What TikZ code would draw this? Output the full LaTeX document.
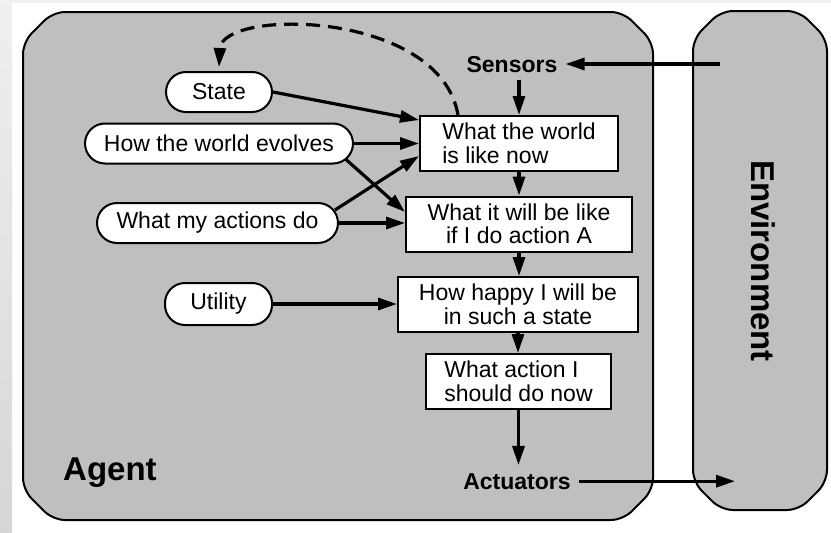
\documentclass[tikz,border=0pt]{standalone}
\usepackage{fontspec}
\setmainfont{Liberation Sans}
\usetikzlibrary{arrows.meta, calc}

\begin{document}
\begin{tikzpicture}[x=1pt, y=-1pt,
	every node/.style={font=\fontsize{23}{23.5}\selectfont},
	box/.style={draw, fill=white, line width=2pt, minimum height=55pt, inner ysep=4pt, align=left},
	oval/.style={draw, fill=white, line width=2pt, rounded corners=20pt, minimum height=40pt},
	tag/.style={font=\fontsize{23}{23.5}\selectfont\bfseries, inner sep=8pt},
	big/.style={font=\fontsize{33}{33}\selectfont\bfseries},
	flow/.style={line width=3.2pt, -{Triangle[length=19pt, width=12pt]}}]
	
	\useasboundingbox (0,0) rectangle (831,533);
	\shade[top color=black!6, bottom color=black!16] (0,0) rectangle (12,533);
	\fill[black!6] (12,0) rectangle (831,3);
	
	% agent and environment
	\draw[fill=black!25, line width=2pt, rounded corners=12pt]
		(338,12) -- (623,12) -- (653,42) -- (653,490) -- (623,520) -- (53,520) -- (23,490) -- (23,42) -- (53,12) -- cycle;
	\draw[fill=black!25, line width=2pt, rounded corners=12pt]
		(760,11) -- (799,11) -- (827,39) -- (827,482) -- (799,510) -- (721,510) -- (693,482) -- (693,39) -- (721,11) -- cycle;
	
	\node[big, anchor=base west, inner sep=0pt] (agent) at (63,480) {Agent};
	\node[big, rotate=-90] (env) at (763,261) {Environment};
	\node[tag, anchor=base] (sensors) at (512,72) {Sensors};
	\node[tag, anchor=base] (actuators) at (517,489) {Actuators};
	\coordinate (envout) at (720,64);
	\coordinate (envin) at (735,480);
	
	% middle column
	\node[box, minimum width=198pt] (now) at (519,143.5) {What the world\\is like now};
	\node[box, minimum width=226pt, align=center] (willbe) at (519,224) {What it will be like\\if I do action A};
	\node[box, minimum width=240pt, align=center] (happy) at (518,304.5) {How happy I will be\\in such a state};
	\node[box, minimum width=185pt] (action) at (518.5,381.5) {What action I\\should do now};
	
	% knowledge on the left
	\node[oval, minimum width=106pt] (state) at (219,92) {State};
	\node[oval, minimum width=268pt] (evolves) at (219,143.5) {How the world evolves};
	\node[oval, minimum width=241pt] (actions) at (217.5,223) {What my actions do};
	\node[oval, minimum width=107pt, minimum height=42pt] (utility) at (218.5,304) {Utility};
	
	\draw[flow] (envout) -- (envout -| sensors.east);
	\draw[flow] (sensors.south -| now.north) -- (now.north);
	\draw[flow] (now) -- (willbe);
	\draw[flow] (willbe.south) -- (willbe.south |- happy.north);
	\draw[flow] (happy.south) -- (happy.south |- action.north);
	\draw[flow] (action.south) -- (action.south |- actuators.north);
	\draw[flow] (actuators.east) -- (actuators.east -| envin);
	
	\draw[flow] (state.east) -- ([yshift=-5pt]now.north west);
	\draw[flow] (evolves.east) -- (evolves.east -| now.west);
	\draw[flow] ([xshift=-8pt, yshift=5pt]evolves.south east) -- ([yshift=12pt]willbe.west);
	\draw[flow] ([xshift=-4pt, yshift=-8pt]actions.north east) -- ([yshift=16pt]now.south west);
	\draw[flow] (actions.east) -- (actions.east -| willbe.west);
	\draw[flow] (utility.east) -- (utility.east -| happy.west);
	\draw[flow, dash pattern=on 14pt off 8pt] ([xshift=-61pt]now.north) .. controls (440,10) and (222,8) .. ([yshift=4pt]state.north);
	
\end{tikzpicture}
\end{document}
